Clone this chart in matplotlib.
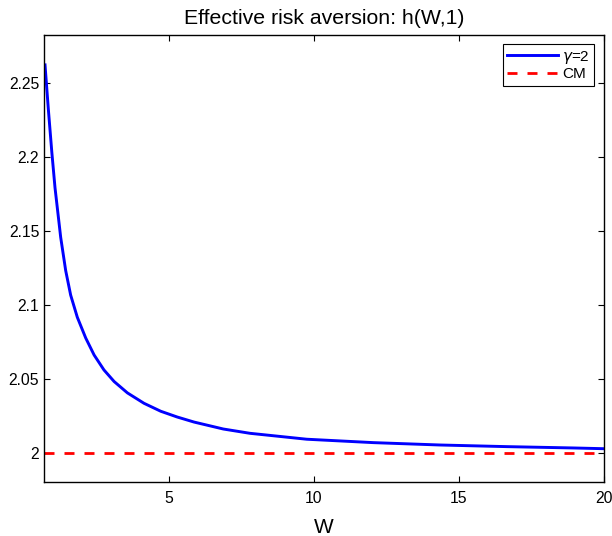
import numpy as np
import matplotlib
matplotlib.use("Agg")
import matplotlib.pyplot as plt

# values
W = [0.715, 0.83, 0.95, 1.06, 1.256, 1.429, 1.60, 1.83, 2.12, 2.41, 2.75,
     3.10, 3.56, 4.13, 4.71, 5.28, 5.86, 6.87, 7.79, 9.75, 12.05, 14.35,
     16.65, 18.95, 20.0]
h = [2.262, 2.232, 2.203, 2.179, 2.1455, 2.123, 2.1065, 2.0915, 2.0775,
     2.066, 2.0559, 2.0481, 2.0404, 2.0334, 2.0280, 2.0241, 2.0207, 2.016,
     2.0131, 2.0091, 2.0068, 2.0052, 2.0041, 2.0032, 2.0027]
cm_level = 2.0

plt.rcParams['font.family'] = ['Liberation Sans', 'DejaVu Sans']

fig = plt.figure(figsize=(6.12, 5.36), dpi=100)
ax = fig.add_axes([0.0719, 0.1013, 0.9144, 0.8334])

ax.plot(W, h, color='#0000ff', lw=2.1, solid_joinstyle='round',
        label=r'$\gamma$=2')
ax.axhline(cm_level, color='#ff0000', lw=2.0, dashes=(3.6, 3.6), label='CM')

ax.set_xlim(0.68, 20)
ax.set_ylim(1.9804, 2.2822)
ax.set_xticks([5, 10, 15, 20])
ax.set_yticks([2, 2.05, 2.1, 2.15, 2.2, 2.25])
ax.set_yticklabels(['2', '2.05', '2.1', '2.15', '2.2', '2.25'])
ax.tick_params(direction='in', top=True, right=True, length=4, width=0.8,
               labelsize=11.3)
ax.tick_params(axis='x', pad=7)
for s in ax.spines.values():
    s.set_linewidth(1.0)

ax.set_title('Effective risk aversion: h(W,1)', fontsize=15.3, pad=8)
ax.set_xlabel('W', fontsize=15, labelpad=8)

leg = ax.legend(loc='upper right', fontsize=11, handlelength=3.3,
                fancybox=False, framealpha=1, edgecolor='black',
                borderaxespad=0.6, borderpad=0.3, labelspacing=0.1,
                handletextpad=0.3)
leg.get_frame().set_linewidth(0.8)

plt.savefig('out.png', dpi=100)
